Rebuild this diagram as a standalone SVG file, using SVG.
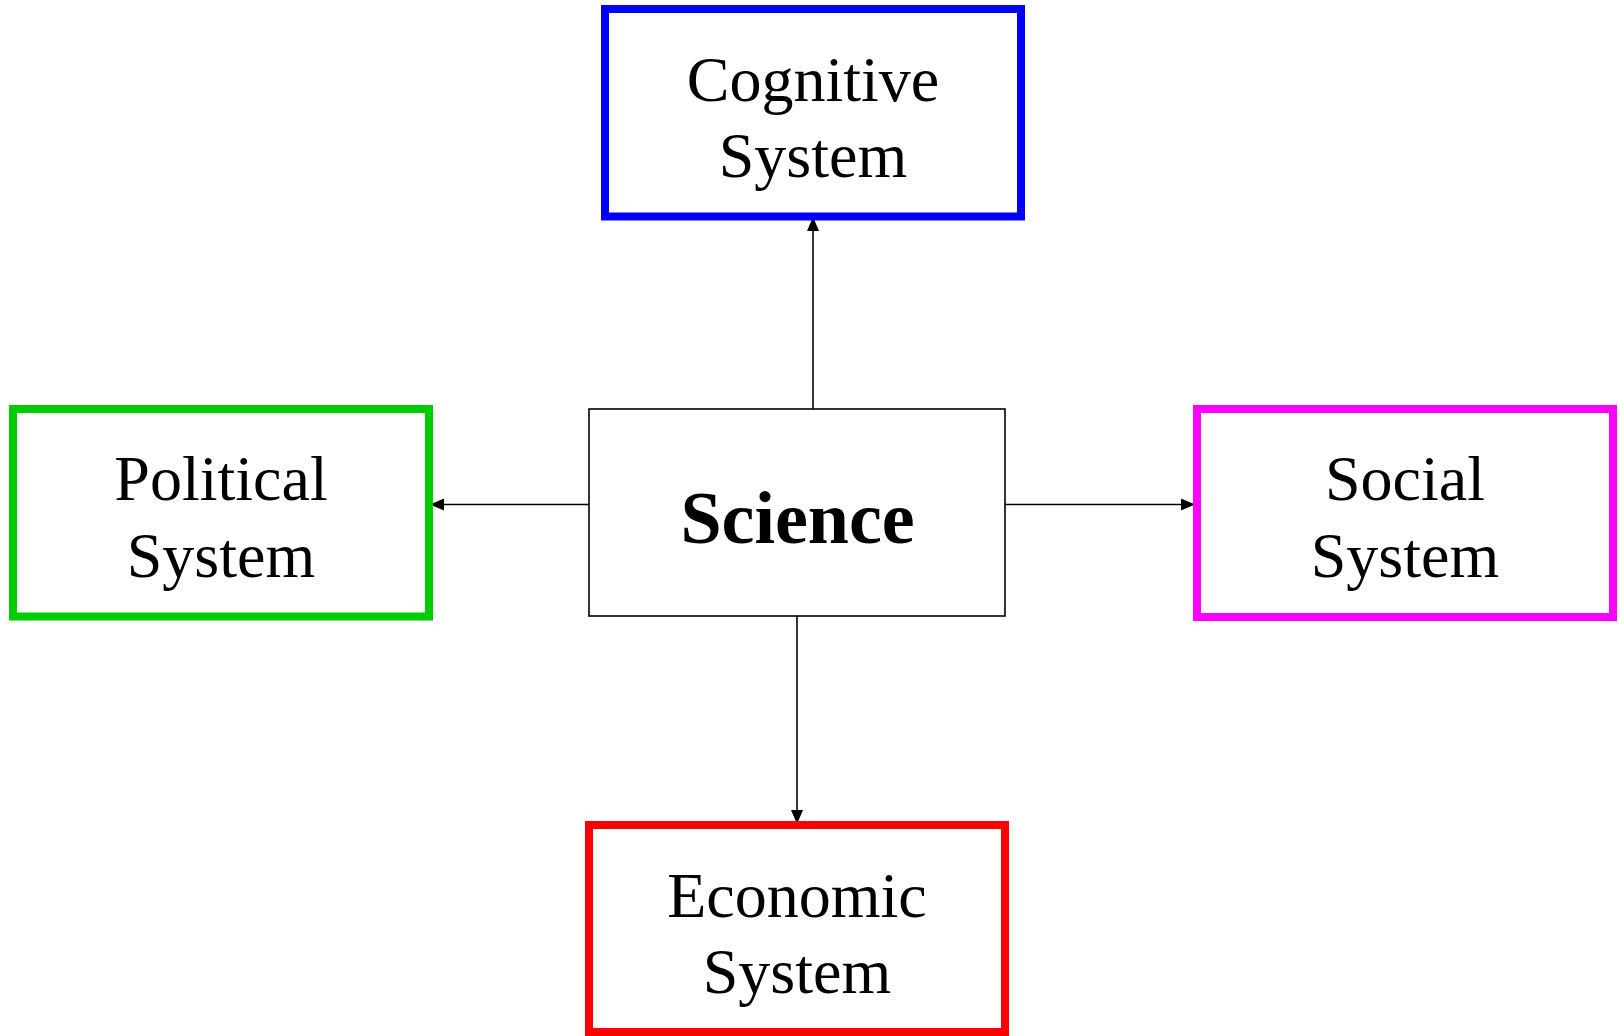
<svg xmlns="http://www.w3.org/2000/svg" width="1619" height="1036" viewBox="0 0 1619 1036">
  <defs>
    <marker id="arrow" viewBox="0 0 14 12" refX="14" refY="6" markerWidth="14" markerHeight="12" markerUnits="userSpaceOnUse" orient="auto">
      <path d="M0,0 L14,6 L0,12 Z" fill="#000"/>
    </marker>
    <style>
      .box { fill: #fff; stroke-width: 8; }
      .core { fill: #fff; stroke: #000; stroke-width: 1.6; }
      .label { font-family: "Liberation Serif", "Times New Roman", serif; font-size: 64px; fill: #000; text-anchor: middle; }
      .title { font-family: "Liberation Serif", "Times New Roman", serif; font-size: 74px; font-weight: bold; fill: #000; text-anchor: middle; }
      .link { stroke: #000; stroke-width: 1.6; fill: none; marker-end: url(#arrow); }
    </style>
  </defs>
  <rect width="1619" height="1036" fill="#fff"/>

  <g id="connectors">
    <line class="link" x1="813" y1="409" x2="813" y2="217"/>
    <line class="link" x1="589" y1="504.5" x2="430" y2="504.5"/>
    <line class="link" x1="1005" y1="504.5" x2="1195" y2="504.5"/>
    <line class="link" x1="797" y1="616" x2="797" y2="824"/>
  </g>

  <g id="science">
    <rect class="core" x="589" y="409" width="416" height="207"/>
    <text class="title" x="797.5" y="542.5">Science</text>
  </g>

  <g id="cognitive">
    <rect class="box" x="605" y="9" width="416" height="207.5" stroke="#0000ff"/>
    <text class="label" x="813" y="101">Cognitive</text>
    <text class="label" x="813" y="177">System</text>
  </g>

  <g id="political">
    <rect class="box" x="13" y="409" width="416" height="207.5" stroke="#00cc00"/>
    <text class="label" x="221" y="500">Political</text>
    <text class="label" x="221" y="577">System</text>
  </g>

  <g id="social">
    <rect class="box" x="1197" y="409" width="416" height="208" stroke="#ff00ff"/>
    <text class="label" x="1405" y="500">Social</text>
    <text class="label" x="1405" y="577">System</text>
  </g>

  <g id="economic">
    <rect class="box" x="589" y="825" width="416" height="207" stroke="#ff0000"/>
    <text class="label" x="797" y="917">Economic</text>
    <text class="label" x="797" y="993">System</text>
  </g>
</svg>
